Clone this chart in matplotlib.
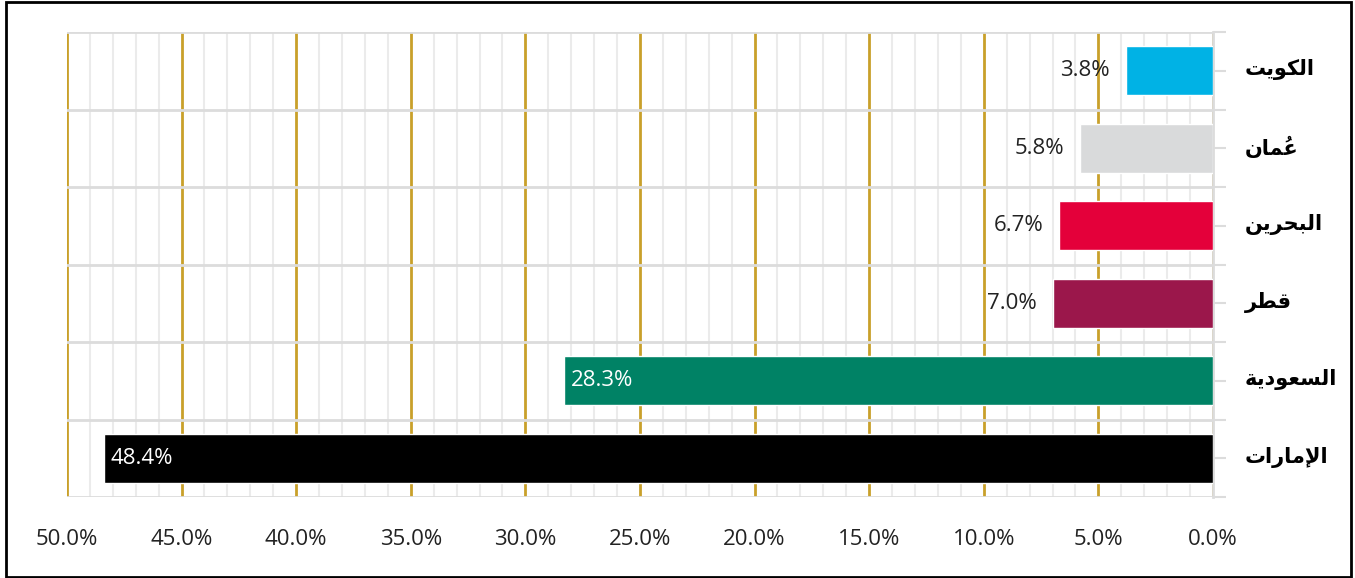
#!/usr/bin/env python3
"""
Share of GCC countries - horizontal bar chart (Arabic labels, inverted x axis)
"""

import matplotlib
matplotlib.use('Agg')
import matplotlib.pyplot as plt
from matplotlib.patches import Rectangle
from matplotlib.ticker import MultipleLocator, FuncFormatter
from matplotlib.transforms import blended_transform_factory

# Data (top to bottom)
countries = ['الكويت', 'عُمان', 'البحرين', 'قطر', 'السعودية', 'الإمارات']
values = [3.8, 5.8, 6.7, 7.0, 28.3, 48.4]
colors = ['#00B2E5', '#D9DADB', '#E4003A', '#9B174B', '#008265', '#000000']

# Minimal Arabic shaping (matplotlib 3.10 has no complex text layout)
FORMS = {
    'ا': ('\uFE8D', '\uFE8E', None, None),
    'إ': ('\uFE87', '\uFE88', None, None),
    'ب': ('\uFE8F', '\uFE90', '\uFE91', '\uFE92'),
    'ة': ('\uFE93', '\uFE94', None, None),
    'ت': ('\uFE95', '\uFE96', '\uFE97', '\uFE98'),
    'ح': ('\uFEA1', '\uFEA2', '\uFEA3', '\uFEA4'),
    'د': ('\uFEA9', '\uFEAA', None, None),
    'ر': ('\uFEAD', '\uFEAE', None, None),
    'س': ('\uFEB1', '\uFEB2', '\uFEB3', '\uFEB4'),
    'ط': ('\uFEC1', '\uFEC2', '\uFEC3', '\uFEC4'),
    'ع': ('\uFEC9', '\uFECA', '\uFECB', '\uFECC'),
    'ق': ('\uFED5', '\uFED6', '\uFED7', '\uFED8'),
    'ك': ('\uFED9', '\uFEDA', '\uFEDB', '\uFEDC'),
    'ل': ('\uFEDD', '\uFEDE', '\uFEDF', '\uFEE0'),
    'م': ('\uFEE1', '\uFEE2', '\uFEE3', '\uFEE4'),
    'ن': ('\uFEE5', '\uFEE6', '\uFEE7', '\uFEE8'),
    'و': ('\uFEED', '\uFEEE', None, None),
    'ي': ('\uFEF1', '\uFEF2', '\uFEF3', '\uFEF4'),
}
LAM_ALEF = {'إ': ('\uFEF9', '\uFEFA'), 'ا': ('\uFEFB', '\uFEFC')}
MARKS = {'\u064F'}


def shape(word):
    # split into clusters: base letter + following marks
    clusters = []
    for ch in word:
        if ch in MARKS and clusters:
            clusters[-1][1].append(ch)
        else:
            clusters.append([ch, []])
    out = []
    i = 0
    prev_joins = False
    while i < len(clusters):
        base, marks = clusters[i]
        nxt = clusters[i + 1][0] if i + 1 < len(clusters) else None
        if base == 'ل' and nxt in LAM_ALEF:
            glyph = LAM_ALEF[nxt][1 if prev_joins else 0]
            out.append(''.join(marks + clusters[i + 1][1]) + glyph)
            prev_joins = False
            i += 2
            continue
        iso, fin, ini, med = FORMS[base]
        dual = ini is not None
        next_joins = dual and nxt is not None
        if prev_joins and next_joins:
            glyph = med
        elif prev_joins:
            glyph = fin
        elif next_joins:
            glyph = ini
        else:
            glyph = iso
        # mark first: it has no advance and is drawn over the glyph that follows
        out.append(''.join(marks) + glyph)
        prev_joins = dual
        i += 1
    return ''.join(reversed(out))


num_font = 'Open Sans'
gold = '#C9A02A'
grid_gray = '#EBEBEB'
line_gray = '#DCDCDC'

fig = plt.figure(figsize=(13.55, 5.78), dpi=100)
ax = fig.add_axes([0.0494, 0.1401, 0.8458, 0.8045])

y = list(range(len(countries)))
ax.barh(y, values, height=0.63, color=colors, edgecolor='white', linewidth=1, zorder=3)

ax.set_xlim(50, 0)
ax.set_ylim(len(countries) - 0.5, -0.5)

# grid: minor gray every 1%, gold every 5%
ax.xaxis.set_major_locator(MultipleLocator(5))
ax.xaxis.set_minor_locator(MultipleLocator(1))
ax.grid(True, axis='x', which='minor', color=grid_gray, linewidth=1.5, zorder=0)
ax.grid(True, axis='x', which='major', color=gold, linewidth=2, zorder=1)
ax.xaxis.set_major_formatter(FuncFormatter(lambda v, p: f'{v:.1f}%'))
ax.tick_params(axis='x', which='both', length=0, pad=23, labelsize=16, labelcolor='#222222')
for lab in ax.get_xticklabels():
    lab.set_fontfamily(num_font)

# y axis on the right, labels drawn as text
ax.yaxis.tick_right()
ax.set_yticks(y)
ax.set_yticklabels([])
ax.set_yticks([i - 0.5 for i in range(len(countries) + 1)], minor=True)
ax.tick_params(axis='y', which='both', right=True, left=False, length=9, width=1.5,
               color=line_gray, direction='out')
ax.grid(True, axis='y', which='minor', color=line_gray, linewidth=2, zorder=2)
ax.grid(False, axis='y', which='major')

trans = blended_transform_factory(ax.transAxes, ax.transData)
for i, c in enumerate(countries):
    ax.text(1.028, i - 0.01, shape(c), transform=trans, ha='left', va='center',
            fontsize=15, fontweight='bold', fontfamily='DejaVu Sans', clip_on=False)

for side in ['top', 'left', 'bottom']:
    ax.spines[side].set_visible(False)
ax.spines['right'].set_color(line_gray)
ax.spines['right'].set_linewidth(2)

# value labels
for i, v in enumerate(values):
    if v > 20:
        ax.text(v - 0.3, i, f'{v:.1f}%', ha='left', va='center', color='white',
                fontsize=16, fontfamily=num_font, zorder=4)
    else:
        ax.text(v + 0.7, i, f'{v:.1f}%', ha='right', va='center', color='#222222',
                fontsize=16, fontfamily=num_font, zorder=4)

# frame around the figure
fig.patches.append(Rectangle((0.0045, 0.002), 0.9925, 0.994, transform=fig.transFigure,
                             fill=False, edgecolor='black', linewidth=2))

fig.savefig('out.png', dpi=100)
